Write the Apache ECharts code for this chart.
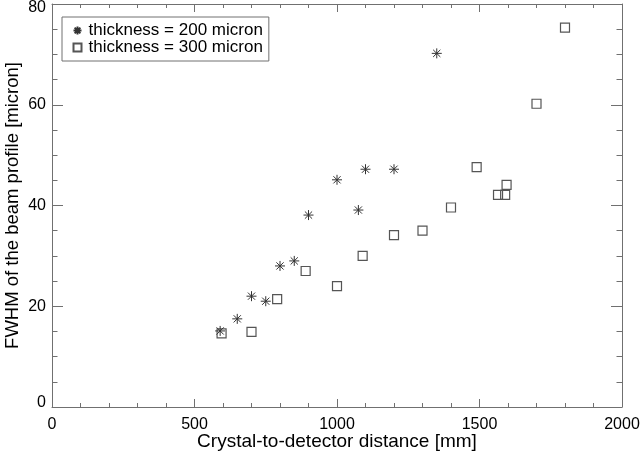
<!DOCTYPE html>
<html>
<head>
<meta charset="utf-8">
<script src="https://cdn.jsdelivr.net/npm/echarts@6/dist/echarts.min.js"></script>
<style>html,body{margin:0;padding:0;background:#fff;}#c{width:640px;height:452px;}</style>
</head>
<body>
<div id="c"></div>
<script>
var dist200 = [590, 650, 700, 750, 800, 850, 900, 1000, 1075, 1100, 1200, 1350];
var fwhm200 = [15.1, 17.5, 22.0, 21.0, 28.0, 29.0, 38.1, 45.1, 39.1, 47.2, 47.2, 70.2];
var dist300 = [595, 700, 790, 890, 1000, 1090, 1200, 1300, 1400, 1490, 1565, 1590, 1595, 1700, 1800];
var fwhm300 = [14.6, 14.9, 21.4, 27.0, 24.0, 30.0, 34.1, 35.0, 39.6, 47.6, 42.1, 42.1, 44.1, 60.2, 75.3];
var seriesNames = ['thickness = 200 micron', 'thickness = 300 micron'];
var xTitle = 'Crystal-to-detector distance [mm]';
var yTitle = 'FWHM of the beam profile [micron]';

function pairs(xs, ys) { return xs.map(function (x, i) { return [x, ys[i]]; }); }

var FONT = '"Liberation Sans", Arial, Helvetica, sans-serif';
var AX = '#707070';
var star = 'path://M0,-5L0,5M-5,0L5,0M-3.6,-3.6L3.6,3.6M-3.6,3.6L3.6,-3.6';
function plain(v) { return String(v); }
function yLabel(v) {
  if (v === 80) return '{t|' + v + '}';
  if (v === 0) return '{b|' + v + '}';
  return String(v);
}
var richBase = { color: '#000', fontSize: 16, fontFamily: FONT };

function xAx(pos, labels) {
  return {
    type: 'value', position: pos, min: 0, max: 2000, interval: 500,
    axisLine: { show: true, onZero: false, lineStyle: { color: AX, width: 1 } },
    axisTick: { show: true, inside: true, length: 8, lineStyle: { color: AX } },
    minorTick: { show: true, splitNumber: 5, length: 4, lineStyle: { color: AX } },
    splitLine: { show: false },
    axisLabel: { show: labels, color: '#000', fontSize: 16, fontFamily: FONT, margin: 10, formatter: plain },
    name: labels ? xTitle : '', nameLocation: 'middle', nameGap: 25, nameMoveOverlap: false,
    nameTextStyle: { color: '#000', fontSize: 19, fontFamily: FONT }
  };
}
function yAx(pos, labels) {
  return {
    type: 'value', position: pos, min: 0, max: 80, interval: 20,
    axisLine: { show: true, onZero: false, lineStyle: { color: AX, width: 1 } },
    axisTick: { show: true, inside: true, length: 11, lineStyle: { color: AX } },
    minorTick: { show: true, splitNumber: 4, length: 5.5, lineStyle: { color: AX } },
    splitLine: { show: false },
    axisLabel: {
      show: labels, color: '#000', fontSize: 16, fontFamily: FONT, margin: 6, formatter: yLabel,
      rich: {
        t: Object.assign({ padding: [7, 0, 0, 0] }, richBase),
        b: Object.assign({ padding: [0, 0, 8, 0] }, richBase)
      }
    },
    name: labels ? yTitle : '', nameLocation: 'middle', nameGap: 30, nameRotate: 90, nameMoveOverlap: false,
    nameTextStyle: { color: '#000', fontSize: 18.5, fontFamily: FONT }
  };
}

var chart = echarts.init(document.getElementById('c'), null, { renderer: 'canvas' });
chart.setOption({
  animation: false,
  backgroundColor: '#fff',
  grid: { left: 52, right: 18, top: 4, bottom: 45, containLabel: false, outerBoundsMode: 'none' },
  xAxis: [xAx('bottom', true), xAx('top', false)],
  yAxis: [yAx('left', true), yAx('right', false)],
  legend: {
    left: 62, top: 17, orient: 'vertical',
    data: [
      { name: seriesNames[0], icon: star },
      { name: seriesNames[1], icon: 'rect' }
    ],
    itemWidth: 8, itemHeight: 8, itemGap: 0,
    padding: [5, 6, 5, 9],
    borderColor: AX, borderWidth: 1,
    textStyle: { color: '#000', fontSize: 17, fontFamily: FONT, lineHeight: 16, padding: [0, 0, 0, 2] },
    selectedMode: false
  },
  series: [
    {
      name: seriesNames[0], type: 'scatter', symbol: star, symbolSize: 10,
      data: pairs(dist200, fwhm200),
      itemStyle: { color: 'none', borderColor: '#333', borderWidth: 1, opacity: 1 },
      z: 3
    },
    {
      name: seriesNames[1], type: 'scatter', symbol: 'rect', symbolSize: 9,
      data: pairs(dist300, fwhm300),
      itemStyle: { color: 'rgba(0,0,0,0)', borderColor: '#555', borderWidth: 1.2, opacity: 1 },
      z: 2
    }
  ]
});
</script>
</body>
</html>
